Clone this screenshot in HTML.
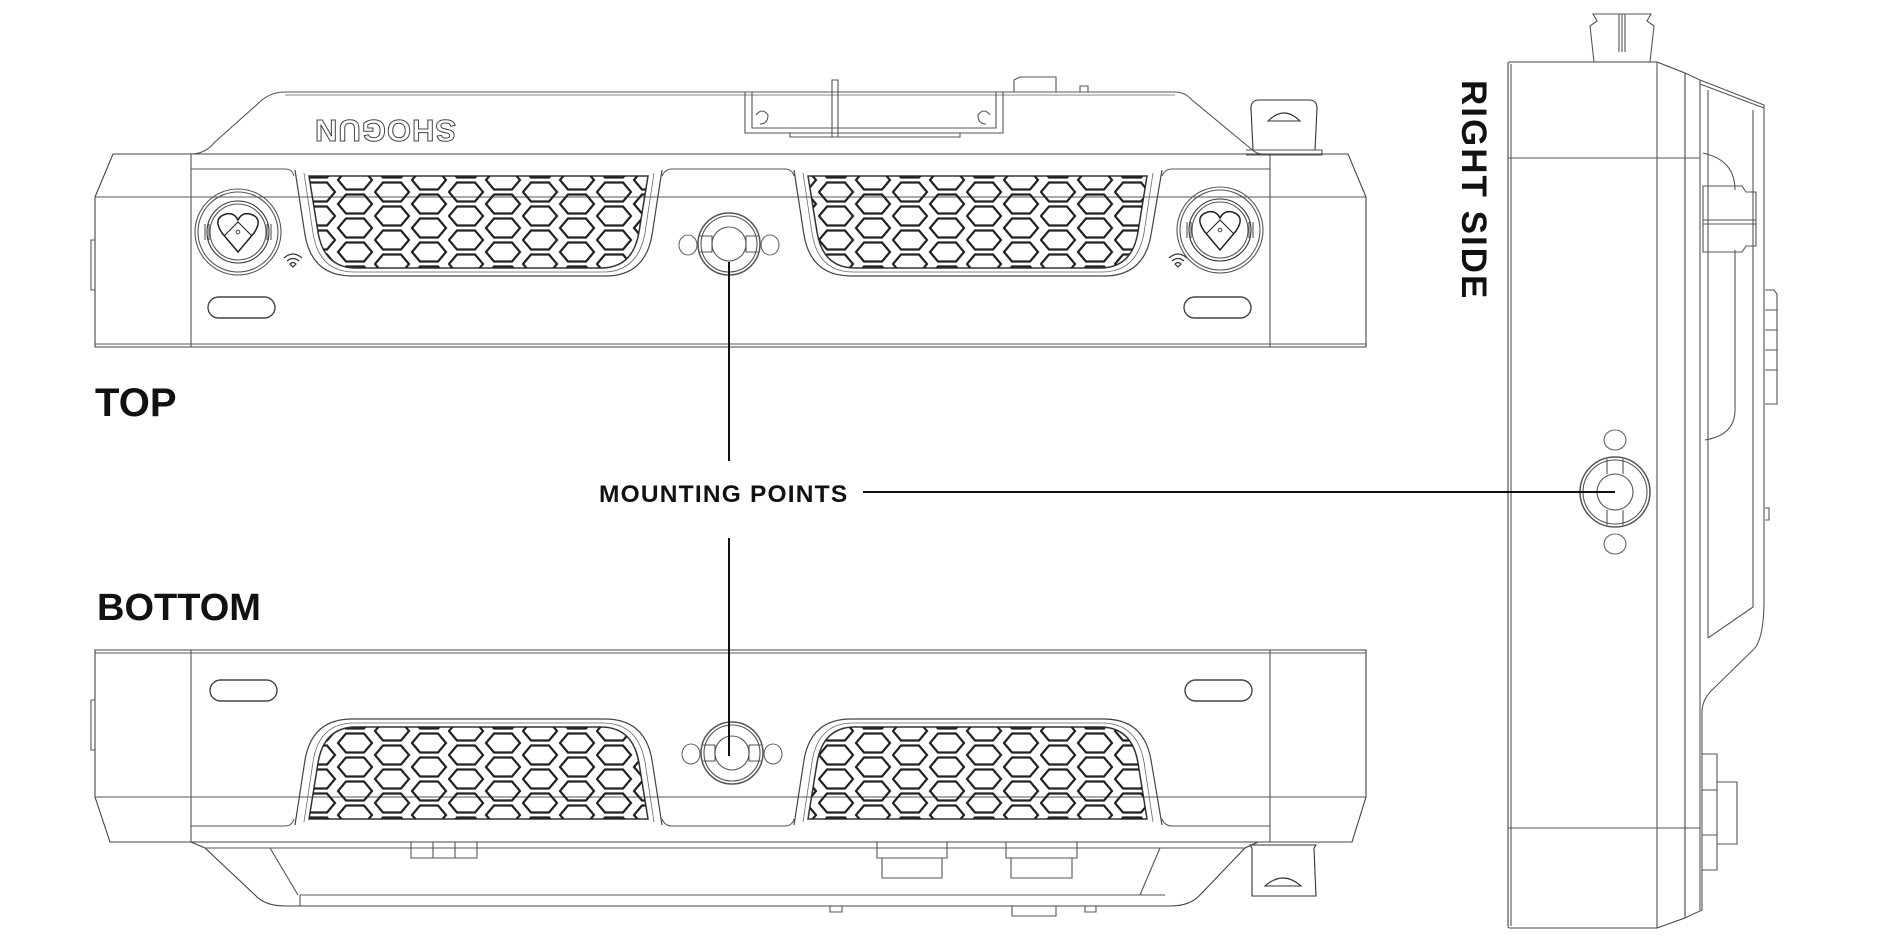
<!DOCTYPE html>
<html><head><meta charset="utf-8"><style>
html,body{margin:0;padding:0;background:#fff;}
svg{display:block}
text{font-family:"Liberation Sans",sans-serif;font-weight:bold;}
</style></head><body>
<svg width="1890" height="941" viewBox="0 0 1890 941" xmlns="http://www.w3.org/2000/svg">
<defs>
<pattern id="hex" patternUnits="userSpaceOnUse" x="300" y="168" width="74" height="24">
 <g fill="none" stroke="#222" stroke-width="2.2">
  <path d="M1,0 L9,-9.5 L27,-9.5 L35,0 L27,9.5 L9,9.5 Z"/>
  <path d="M1,24 L9,14.5 L27,14.5 L35,24 L27,33.5 L9,33.5 Z"/>
  <path d="M38,12 L46,2.5 L64,2.5 L72,12 L64,21.5 L46,21.5 Z"/>
  <path d="M-36,12 L-28,2.5 L-10,2.5 L-2,12 L-10,21.5 L-28,21.5 Z"/>
 </g>
</pattern>
<clipPath id="gL"><path d="M309,176 L318,232 Q324,268 356,268 L601,268 Q633,268 639,232 L648,176 Z"/></clipPath>
<clipPath id="gR"><path d="M808,176 L817,232 Q823,268 855,268 L1100,268 Q1132,268 1138,232 L1147,176 Z"/></clipPath>
<g id="grilles">
 <path d="M295,170 L305,235 Q312,276 352,276 L605,276 Q645,276 652,235 L662,170" fill="none" stroke="#444" stroke-width="1.2"/>
 <path d="M309,176 L318,232 Q324,268 356,268 L601,268 Q633,268 639,232 L648,176 Z" fill="none" stroke="#333" stroke-width="1.5"/>
 <path d="M304,173 L313,233 Q319,272 354,272 L603,272 Q638,272 645,233 L654,173" fill="none" stroke="#666" stroke-width="0.8"/>
 <rect x="290" y="160" width="380" height="120" fill="url(#hex)" clip-path="url(#gL)"/>
 <path d="M794,170 L804,235 Q811,276 851,276 L1104,276 Q1144,276 1151,235 L1162,170" fill="none" stroke="#444" stroke-width="1.2"/>
 <path d="M808,176 L817,232 Q823,268 855,268 L1100,268 Q1132,268 1138,232 L1147,176 Z" fill="none" stroke="#333" stroke-width="1.5"/>
 <path d="M803,173 L812,233 Q818,272 853,272 L1102,272 Q1137,272 1144,233 L1153,173" fill="none" stroke="#666" stroke-width="0.8"/>
 <rect x="790" y="160" width="380" height="120" fill="url(#hex)" clip-path="url(#gR)"/>
 <path d="M191,169 L285,169 Q292,169 294,176 M662,176 Q665,169 672,169 L785,169 Q792,169 794,176 M1162,176 Q1165,169 1172,169 L1270,169" fill="none" stroke="#555" stroke-width="1"/>
</g>
</defs>

<g fill="none" stroke="#555" stroke-width="1.1">
<path d="M191,154 Q205,154 215,142 L262,100 Q272,92 285,92 L1175,92 Q1185,92 1192,100 L1250,148 Q1256,154 1262,154"/>
<path d="M285,95 L1175,95" stroke="#888"/>
<path d="M745,92 L745,133 L1003,133 L1003,92"/>
<path d="M752,92 L752,128 L996,128 L996,92"/>
<path d="M790,133 L790,137 L960,137 L960,133"/>
<path d="M832,80 L838,80 L838,137 L832,137 Z"/>
<path d="M756,115 Q762,107 768,115 Q768,124 760,124 M990,115 Q984,107 978,115 Q978,124 986,124"/>
<path d="M1014,92 L1014,80 L1020,77 L1056,77 L1056,92 M1080,92 L1080,86 L1088,86 L1088,92"/>
<path d="M1253,150 L1251,108 Q1251,100 1259,100 L1309,100 Q1317,100 1317,108 L1315,150 Z" stroke="#333"/>
<path d="M1268,121 Q1284,105 1300,121 Z" stroke="#333"/>
<path d="M1246,150 L1322,150 L1322,155 L1246,155"/>
<path d="M113,154 L1348,154 L1366,197 L1366,347 L95,347 L95,197 Z" stroke="#444"/>
<path d="M95,197 L1366,197 M95,344 L1366,344 M191,154 L191,347 M1270,154 L1270,347"/>
<path d="M91,240 L95,240 L95,290 L91,290 Z"/>
<use href="#grilles"/>
<g id="knobL">
 <circle cx="238" cy="232" r="43"/><circle cx="238" cy="232" r="40"/>
 <circle cx="238" cy="232" r="31" stroke="#333"/><circle cx="238" cy="232" r="28"/>
 <path d="M238,252 L222,233 Q212,218 226,214 Q234,212 238,220 Q242,212 250,214 Q264,218 254,233 Z" stroke="#222" stroke-width="1.5"/>
 <path d="M224,236 L238,222 L252,236" stroke="#222"/>
 <circle cx="238" cy="232" r="1.8"/>
 <path d="M205,224 L205,240 M209,224 L209,240 M267,224 L267,240 M271,224 L271,240"/>
</g>
<use href="#knobL" transform="translate(982,-2)"/>
<g id="wifi" stroke="#333" stroke-width="1.2">
 <path d="M284,258 Q293,250 302,258 M287,261 Q293,256 299,261 M290,264 Q293,261 296,264 L293,267 Z"/>
</g>
<use href="#wifi" transform="translate(885,0)"/>
<rect x="208" y="297" width="67" height="21" rx="10.5" stroke="#444" stroke-width="1.4"/>
<rect x="1184" y="297" width="67" height="21" rx="10.5" stroke="#444" stroke-width="1.4"/>
<g id="mountT">
 <circle cx="729" cy="244" r="31" stroke-width="1.5"/><circle cx="729" cy="244" r="28"/>
 <circle cx="729" cy="244" r="17"/>
 <path d="M700,236 L712,236 L712,252 L700,252 M758,236 L746,236 L746,252 L758,252"/>
 <ellipse cx="688" cy="245" rx="9" ry="10" stroke="#666"/>
 <ellipse cx="770" cy="245" rx="9" ry="10" stroke="#666"/>
</g>

<path d="M95,650 L1366,650 L1366,797 L1352,842 L110,842 L95,797 Z" stroke="#444"/>
<path d="M95,653 L1366,653 M95,797 L1366,797 M191,650 L191,842 M1270,650 L1270,842"/>
<path d="M91,700 L95,700 L95,750 L91,750 Z"/>
<use href="#grilles" transform="translate(0,995) scale(1,-1)"/>
<rect x="210" y="680" width="67" height="21" rx="10.5" stroke="#444" stroke-width="1.4"/>
<rect x="1185" y="680" width="67" height="21" rx="10.5" stroke="#444" stroke-width="1.4"/>
<use href="#mountT" transform="translate(3,509)"/>
<path d="M191,842 L205,848 L255,895 Q265,906 285,906 L1170,906 Q1190,906 1200,895 L1245,848 L1258,842" stroke="#444"/>
<path d="M205,848 L1245,848 M300,895 L1165,895 M300,895 L300,906 M270,848 L298,895 M1160,848 L1140,895"/>
<path d="M411,842 L411,858 L477,858 L477,842 M433,842 L433,858 M455,842 L455,858"/>
<path d="M877,842 L877,858 L947,858 L947,842 M882,858 L882,878 L942,878 L942,858"/>
<path d="M1006,842 L1006,858 L1077,858 L1077,842 M1011,858 L1011,878 L1072,878 L1072,858"/>
<path d="M830,906 L830,912 L842,912 L842,906 M1012,906 L1012,916 L1056,916 L1056,906 M1085,906 L1085,912 L1096,912 L1096,906"/>
<path d="M1252,848 L1250,845 L1316,845 L1314,848 L1316,896 L1252,896 Z" stroke="#333"/>
<path d="M1265,886 Q1283,870 1301,886 Z" stroke="#333"/>

<path d="M1508,64 Q1508,62 1510,62 L1657,62 L1685,73 L1685,918 L1657,928 L1510,928 Q1508,928 1508,926 Z" stroke="#444"/>
<path d="M1511,64 L1511,926 M1657,62 L1657,928 M1508,158 L1700,158 M1508,828 L1700,828"/>
<path d="M1685,73 L1700,80 L1764,105 L1764,600 Q1764,640 1753,650 L1712,690 Q1702,700 1702,712 L1702,910 L1685,918"/>
<path d="M1700,80 L1700,910 M1708,90 L1708,638 M1753,110 L1753,607 M1708,638 L1753,607 M1700,84 L1764,108"/>
<path d="M1703,153 Q1735,160 1735,190 M1735,250 L1735,410 Q1735,435 1705,440"/>
<path d="M1703,186 L1742,186 L1746,192 L1756,192 L1756,246 L1746,246 L1742,252 L1703,252 Z M1703,220 L1756,220 M1703,224 L1756,224"/>
<path d="M1765,290 L1774,290 L1777,294 L1777,404 L1765,404 M1765,310 L1777,310 M1765,330 L1777,330 M1765,350 L1777,350 M1765,370 L1777,370"/>
<path d="M1765,508 L1769,508 L1769,520 L1765,520"/>
<path d="M1702,754 L1717,754 L1717,870 L1702,870 M1717,782 L1737,782 L1737,844 L1717,844 M1702,790 L1717,790 M1702,835 L1717,835"/>
<path d="M1594,62 L1590,26 L1597,21 L1593,14 L1651,14 L1647,21 L1654,26 L1650,62 M1619,14 L1619,52 M1622,14 L1622,52 M1625,14 L1625,52"/>
<circle cx="1615" cy="492" r="35" stroke-width="1.5"/><circle cx="1615" cy="492" r="32"/><circle cx="1615" cy="492" r="18"/>
<path d="M1607,459 L1607,474 M1623,459 L1623,474 M1607,510 L1607,525 M1623,510 L1623,525"/>
<ellipse cx="1615" cy="440" rx="11" ry="10" stroke="#666"/>
<ellipse cx="1615" cy="544" rx="11" ry="10" stroke="#666"/>
</g>

<text x="385" y="131" font-size="31" text-anchor="middle" fill="none" stroke="#444" stroke-width="1" transform="rotate(180 385 131)" dy="11" letter-spacing="1">SHOGUN</text>

<g stroke="#111" stroke-width="2" fill="none">
 <path d="M729,262 L729,461"/>
 <path d="M729,538 L729,756"/>
 <path d="M863,492 L1615,492"/>
</g>

<text x="95" y="416" font-size="40" fill="#111">TOP</text>
<text x="97" y="620" font-size="38" fill="#111">BOTTOM</text>
<text x="599" y="502" font-size="24.5" fill="#111" letter-spacing="1.2">MOUNTING POINTS</text>
<text x="0" y="0" font-size="35" fill="#111" letter-spacing="2" transform="translate(1462,80) rotate(90)">RIGHT SIDE</text>
</svg>
</body></html>
